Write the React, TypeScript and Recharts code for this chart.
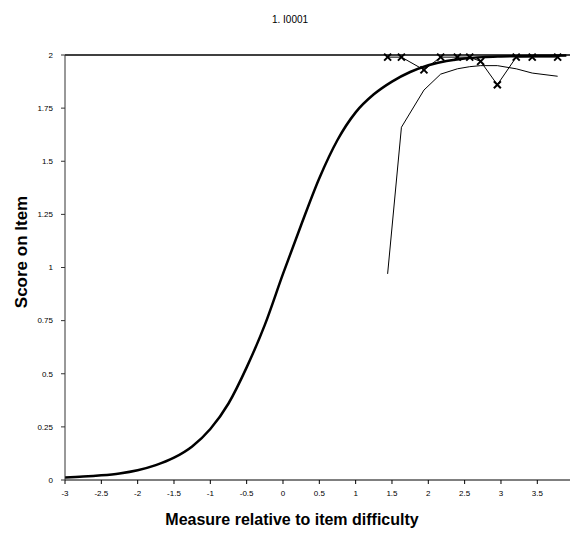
import { LineChart, Line, XAxis, YAxis, ReferenceLine } from "recharts"

// model (expected score) curve
const modelX = [-3, -2.75, -2.5, -2.25, -2, -1.75, -1.5, -1.25, -1, -0.75, -0.5, -0.25, 0, 0.25, 0.5, 0.75, 1, 1.25, 1.5, 1.75, 2, 2.25, 2.5, 2.75, 3, 3.5, 3.9]
const modelY = [0.012, 0.016, 0.022, 0.031, 0.046, 0.07, 0.105, 0.158, 0.24, 0.36, 0.53, 0.73, 0.97, 1.2, 1.42, 1.6, 1.73, 1.815, 1.875, 1.92, 1.952, 1.972, 1.984, 1.99, 1.993, 1.996, 1.998]

// observed measures
const obsX = [1.44, 1.63, 1.94, 2.17, 2.4, 2.57, 2.72, 2.95, 3.21, 3.43, 3.78]
const obsY = [0.97, 1.66, 1.835, 1.91, 1.935, 1.945, 1.95, 1.95, 1.935, 1.915, 1.9]
const pointY = [1.99, 1.99, 1.93, 1.99, 1.99, 1.99, 1.97, 1.86, 1.99, 1.99, 1.99]

const xTicks = [-3, -2.5, -2, -1.5, -1, -0.5, 0, 0.5, 1, 1.5, 2, 2.5, 3, 3.5]
const yTicks = [0, 0.25, 0.5, 0.75, 1, 1.25, 1.5, 1.75, 2]

const modelData = modelX.map((x, i) => ({ x, y: modelY[i] }))
const obsData = obsX.map((x, i) => ({ x, y: obsY[i] }))
const pointData = obsX.map((x, i) => ({ x, y: pointY[i] }))

const Cross = (props: any) => {
  const { cx, cy, index } = props
  if (cx == null || cy == null) return <g key={index} />
  const s = 3.5
  return (
    <path
      key={index}
      d={`M${cx - s},${cy - s}L${cx + s},${cy + s}M${cx + s},${cy - s}L${cx - s},${cy + s}`}
      stroke="#000"
      strokeWidth={2}
    />
  )
}

const tickStyle = { fontSize: 8, fill: "#000", fontFamily: "Liberation Sans, Arial, sans-serif" }

export default function App() {
  return (
    <div style={{ position: "absolute", left: 0, top: 0, width: 572, height: 533, background: "#fff", fontFamily: "Liberation Sans, Arial, sans-serif" }}>
      <div style={{ position: "absolute", left: 4, top: 14, width: 572, textAlign: "center", fontSize: 10 }}>
        1. I0001
      </div>
      <div
        style={{
          position: "absolute",
          left: 22,
          top: 252,
          transform: "translate(-50%, -50%) rotate(-90deg)",
          whiteSpace: "nowrap",
          fontSize: 17,
          fontWeight: "bold",
        }}
      >
        Score on Item
      </div>
      <div style={{ position: "absolute", left: 6, top: 511, width: 572, textAlign: "center", fontSize: 16, fontWeight: "bold" }}>
        Measure relative to item difficulty
      </div>
      <LineChart width={572} height={533} margin={{ top: 55, right: 2, bottom: 23, left: 0 }}>
        <XAxis
          type="number"
          dataKey="x"
          domain={[-3, 3.95]}
          ticks={xTicks}
          allowDataOverflow
          height={30}
          tick={tickStyle}
          tickSize={4}
          tickMargin={6}
          stroke="#000"
        />
        <YAxis
          type="number"
          dataKey="y"
          domain={[0, 2]}
          ticks={yTicks}
          width={65}
          tick={tickStyle}
          tickSize={4}
          tickMargin={8}
          stroke="#333"
        />
        <ReferenceLine y={2} stroke="#000" strokeWidth={1.5} />
        <Line data={modelData} dataKey="y" type="monotone" stroke="#000" strokeWidth={2.5} dot={false} isAnimationActive={false} />
        <Line data={obsData} dataKey="y" type="linear" stroke="#000" strokeWidth={1} dot={false} isAnimationActive={false} />
        <Line data={pointData} dataKey="y" type="linear" stroke="#000" strokeWidth={1} dot={<Cross />} isAnimationActive={false} />
      </LineChart>
    </div>
  )
}
